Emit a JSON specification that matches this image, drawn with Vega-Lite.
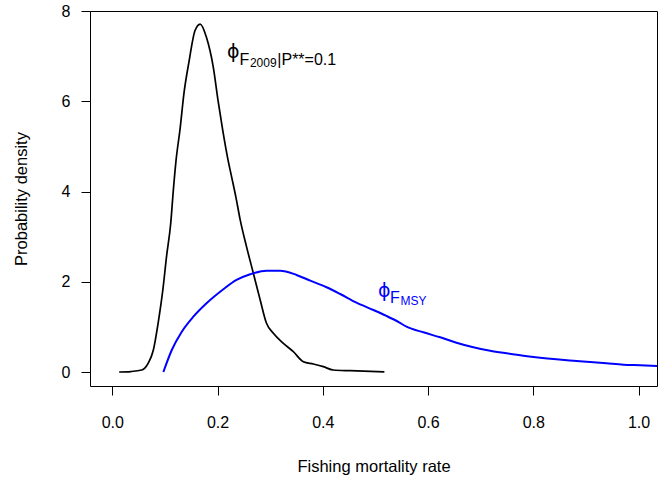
{
  "$schema": "https://vega.github.io/schema/vega-lite/v6.json",
  "width": 567,
  "height": 375,
  "autosize": {"type": "none"},
  "padding": {"left": 90, "top": 11, "right": 1, "bottom": 93},
  "background": "white",
  "config": {
    "view": {"stroke": "black", "strokeWidth": 1},
    "font": "Liberation Sans, DejaVu Sans, sans-serif",
    "axis": {
      "grid": false,
      "domain": false,
      "tickColor": "black",
      "tickSize": 9,
      "tickWidth": 1,
      "labelColor": "black",
      "labelFontSize": 16,
      "labelFont": "Liberation Sans",
      "titleColor": "black",
      "titleFontSize": 16.5,
      "titleFont": "Liberation Sans",
      "titleFontWeight": "normal"
    }
  },
  "datasets": {
    "curves": [
      {"curve": "F2009", "F": 0.013, "density": 0.0},
      {"curve": "F2009", "F": 0.035, "density": 0.01},
      {"curve": "F2009", "F": 0.056, "density": 0.044},
      {"curve": "F2009", "F": 0.068, "density": 0.193},
      {"curve": "F2009", "F": 0.078, "density": 0.488},
      {"curve": "F2009", "F": 0.087, "density": 1.08},
      {"curve": "F2009", "F": 0.096, "density": 1.818},
      {"curve": "F2009", "F": 0.103, "density": 2.557},
      {"curve": "F2009", "F": 0.111, "density": 3.297},
      {"curve": "F2009", "F": 0.116, "density": 4.035},
      {"curve": "F2009", "F": 0.121, "density": 4.678},
      {"curve": "F2009", "F": 0.129, "density": 5.41},
      {"curve": "F2009", "F": 0.136, "density": 6.164},
      {"curve": "F2009", "F": 0.146, "density": 6.896},
      {"curve": "F2009", "F": 0.157, "density": 7.561},
      {"curve": "F2009", "F": 0.167, "density": 7.71},
      {"curve": "F2009", "F": 0.179, "density": 7.412},
      {"curve": "F2009", "F": 0.192, "density": 6.747},
      {"curve": "F2009", "F": 0.201, "density": 6.009},
      {"curve": "F2009", "F": 0.21, "density": 5.344},
      {"curve": "F2009", "F": 0.219, "density": 4.752},
      {"curve": "F2009", "F": 0.227, "density": 4.308},
      {"curve": "F2009", "F": 0.235, "density": 3.865},
      {"curve": "F2009", "F": 0.243, "density": 3.37},
      {"curve": "F2009", "F": 0.255, "density": 2.778},
      {"curve": "F2009", "F": 0.268, "density": 2.188},
      {"curve": "F2009", "F": 0.281, "density": 1.596},
      {"curve": "F2009", "F": 0.293, "density": 1.08},
      {"curve": "F2009", "F": 0.306, "density": 0.858},
      {"curve": "F2009", "F": 0.325, "density": 0.636},
      {"curve": "F2009", "F": 0.344, "density": 0.45},
      {"curve": "F2009", "F": 0.363, "density": 0.228},
      {"curve": "F2009", "F": 0.382, "density": 0.177},
      {"curve": "F2009", "F": 0.401, "density": 0.118},
      {"curve": "F2009", "F": 0.42, "density": 0.044},
      {"curve": "F2009", "F": 0.452, "density": 0.029},
      {"curve": "F2009", "F": 0.517, "density": 0.005},
      {"curve": "FMSY", "F": 0.097, "density": 0.0},
      {"curve": "FMSY", "F": 0.113, "density": 0.488},
      {"curve": "FMSY", "F": 0.132, "density": 0.894},
      {"curve": "FMSY", "F": 0.154, "density": 1.226},
      {"curve": "FMSY", "F": 0.179, "density": 1.523},
      {"curve": "FMSY", "F": 0.211, "density": 1.834},
      {"curve": "FMSY", "F": 0.236, "density": 2.04},
      {"curve": "FMSY", "F": 0.262, "density": 2.166},
      {"curve": "FMSY", "F": 0.293, "density": 2.246},
      {"curve": "FMSY", "F": 0.319, "density": 2.246},
      {"curve": "FMSY", "F": 0.35, "density": 2.151},
      {"curve": "FMSY", "F": 0.376, "density": 2.024},
      {"curve": "FMSY", "F": 0.407, "density": 1.878},
      {"curve": "FMSY", "F": 0.433, "density": 1.729},
      {"curve": "FMSY", "F": 0.464, "density": 1.537},
      {"curve": "FMSY", "F": 0.496, "density": 1.375},
      {"curve": "FMSY", "F": 0.521, "density": 1.242},
      {"curve": "FMSY", "F": 0.545, "density": 1.1},
      {"curve": "FMSY", "F": 0.559, "density": 1.004},
      {"curve": "FMSY", "F": 0.591, "density": 0.88},
      {"curve": "FMSY", "F": 0.623, "density": 0.769},
      {"curve": "FMSY", "F": 0.654, "density": 0.65},
      {"curve": "FMSY", "F": 0.686, "density": 0.548},
      {"curve": "FMSY", "F": 0.718, "density": 0.472},
      {"curve": "FMSY", "F": 0.749, "density": 0.415},
      {"curve": "FMSY", "F": 0.781, "density": 0.361},
      {"curve": "FMSY", "F": 0.813, "density": 0.317},
      {"curve": "FMSY", "F": 0.844, "density": 0.282},
      {"curve": "FMSY", "F": 0.876, "density": 0.251},
      {"curve": "FMSY", "F": 0.908, "density": 0.222},
      {"curve": "FMSY", "F": 0.939, "density": 0.193},
      {"curve": "FMSY", "F": 0.971, "density": 0.162},
      {"curve": "FMSY", "F": 1.003, "density": 0.149},
      {"curve": "FMSY", "F": 1.035, "density": 0.133}
    ],
    "labels": [
      {"curve": "F2009", "level": "symbol", "F": 0.218, "density": 6.96, "text": "ϕ"},
      {"curve": "F2009", "level": "sub", "F": 0.2415, "density": 6.81, "text": "F"},
      {"curve": "F2009", "level": "subsub", "F": 0.2615, "density": 6.75, "text": "2009"},
      {"curve": "F2009", "level": "sub", "F": 0.3135, "density": 6.81, "text": "|P**=0.1"},
      {"curve": "FMSY", "level": "symbol", "F": 0.505, "density": 1.66, "text": "ϕ"},
      {"curve": "FMSY", "level": "sub", "F": 0.5275, "density": 1.54, "text": "F"},
      {"curve": "FMSY", "level": "subsub", "F": 0.5475, "density": 1.49, "text": "MSY"}
    ]
  },
  "encoding": {
    "x": {
      "field": "F",
      "type": "quantitative",
      "scale": {"domain": [-0.0424, 1.035], "nice": false, "zero": false},
      "axis": {
        "values": [0, 0.2, 0.4, 0.6, 0.8, 1.0],
        "format": ".1f",
        "labelPadding": 19,
        "title": "Fishing mortality rate",
        "titlePadding": 28
      }
    },
    "y": {
      "field": "density",
      "type": "quantitative",
      "scale": {"domain": [-0.31, 8.0], "nice": false, "zero": false},
      "axis": {
        "values": [0, 2, 4, 6, 8],
        "format": "d",
        "labelAngle": 0,
        "labelPadding": 11,
        "title": "Probability density",
        "titlePadding": 32
      }
    },
    "color": {
      "field": "curve",
      "type": "nominal",
      "scale": {"domain": ["F2009", "FMSY"], "range": ["#000000", "#0000ff"]},
      "legend": null
    }
  },
  "layer": [
    {
      "data": {"name": "curves"},
      "transform": [{"filter": "datum.curve === 'F2009'"}],
      "mark": {"type": "line", "strokeWidth": 1.7, "clip": true, "interpolate": "monotone"}
    },
    {
      "data": {"name": "curves"},
      "transform": [{"filter": "datum.curve === 'FMSY'"}],
      "mark": {"type": "line", "strokeWidth": 2, "clip": true, "interpolate": "monotone"}
    },
    {
      "data": {"name": "labels"},
      "transform": [{"filter": "datum.level === 'symbol'"}],
      "mark": {"type": "text", "align": "left", "baseline": "alphabetic", "fontSize": 19, "font": "DejaVu Sans"},
      "encoding": {"text": {"field": "text"}}
    },
    {
      "data": {"name": "labels"},
      "transform": [{"filter": "datum.level === 'sub'"}],
      "mark": {"type": "text", "align": "left", "baseline": "alphabetic", "fontSize": 16},
      "encoding": {"text": {"field": "text"}}
    },
    {
      "data": {"name": "labels"},
      "transform": [{"filter": "datum.level === 'subsub'"}],
      "mark": {"type": "text", "align": "left", "baseline": "alphabetic", "fontSize": 12},
      "encoding": {"text": {"field": "text"}}
    }
  ]
}
